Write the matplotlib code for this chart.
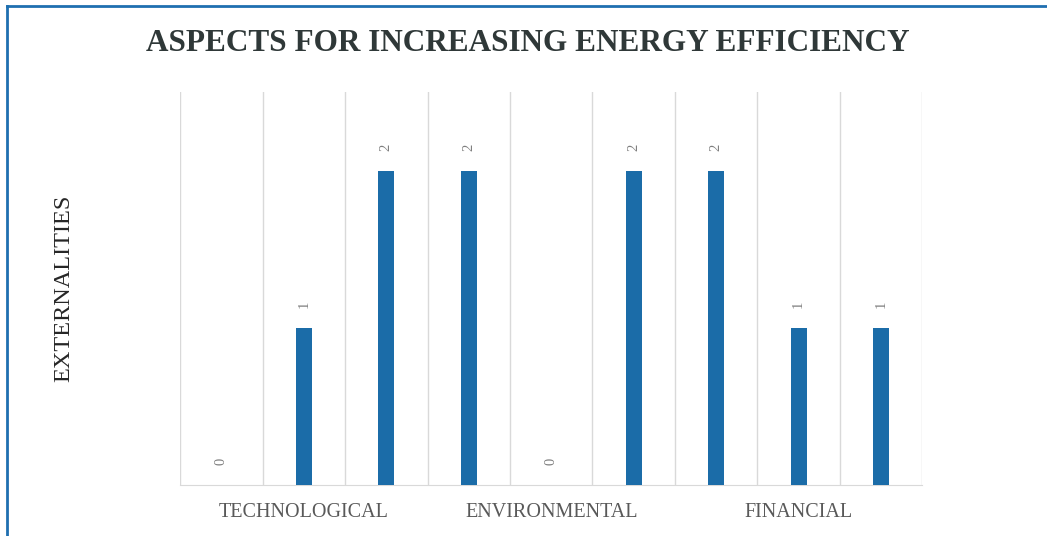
import numpy as np
import matplotlib.pyplot as plt
from matplotlib.lines import Line2D

# Chart data
values = [0, 1, 2, 2, 0, 2, 2, 1, 1]
groups = ['TECHNOLOGICAL', 'ENVIRONMENTAL', 'FINANCIAL']
group_size = 3
title = 'ASPECTS FOR INCREASING ENERGY EFFICIENCY'
ylabel = 'EXTERNALITIES'

bar_color = '#1b6ca8'
grid_color = '#d9d9d9'
serif = ['Liberation Serif', 'DejaVu Serif']


def main():
    fig = plt.figure(figsize=(10.47, 5.36), dpi=100)
    ax = fig.add_axes([0.172, 0.095, 0.709, 0.733])

    x = np.arange(len(values))
    ax.bar(x, values, width=0.19, color=bar_color, zorder=3)

    # value labels, rotated like the original
    for xi, v in zip(x, values):
        ax.annotate(str(v), (xi, v), xytext=(0, 17), textcoords='offset points',
                    ha='center', va='center', rotation=90, fontsize=10.5,
                    color='#7f7f7f', family=serif)

    ax.set_xlim(-0.5, len(values) - 0.5)
    ax.set_ylim(0, 2.5)

    # vertical gridlines at the category boundaries
    ax.set_xticks(np.arange(-0.5, len(values), 1.0))
    ax.set_xticklabels([])
    ax.tick_params(axis='x', which='major', length=0)
    ax.grid(axis='x', which='major', color=grid_color, linewidth=1, zorder=0)

    # group labels under the middle of each group
    centers = [i * group_size + (group_size - 1) / 2 for i in range(len(groups))]
    ax.set_xticks(centers, minor=True)
    ax.set_xticklabels(groups, minor=True, fontsize=14.5, color='#595959', family=serif)
    ax.tick_params(axis='x', which='minor', length=0, pad=13)

    ax.set_yticks([])
    for side in ['top', 'right', 'left']:
        ax.spines[side].set_visible(False)
    ax.spines['bottom'].set_color(grid_color)

    ax.set_ylabel(ylabel, fontsize=17.5, color='#262626', family=serif, labelpad=76)

    fig.text(0.504, 0.918, title, ha='center', va='center', fontsize=22.5,
             fontweight='bold', color='#2f3838', family=serif)

    # blue frame along the top and left edges
    fig.add_artist(Line2D([0.0067, 1.0], [0.989, 0.989], color='#1f6fb0', linewidth=2,
                          transform=fig.transFigure))
    fig.add_artist(Line2D([0.0067, 0.0067], [0.0, 0.989], color='#1f6fb0', linewidth=2,
                          transform=fig.transFigure))

    fig.savefig('out.png', dpi=100)


if __name__ == '__main__':
    main()
